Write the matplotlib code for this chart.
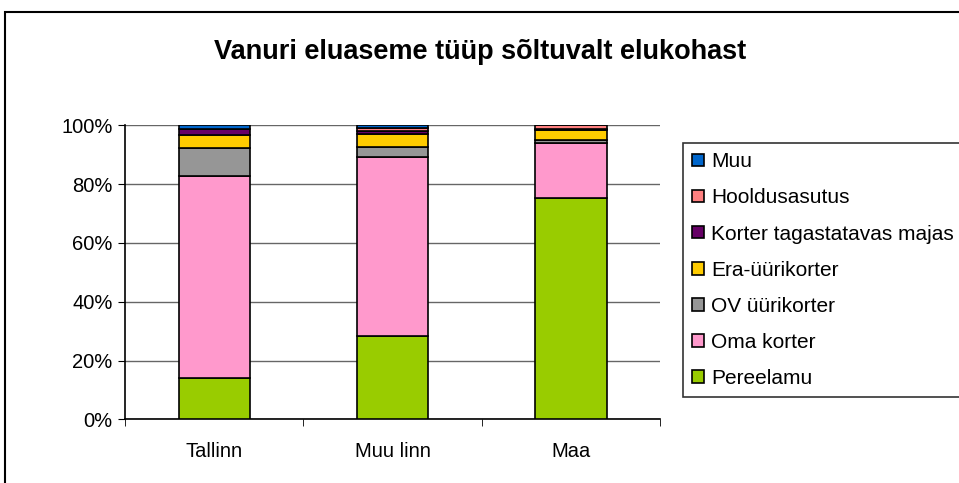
import numpy as np
import matplotlib
matplotlib.use("Agg")
import matplotlib.pyplot as plt
from matplotlib.patches import Patch, Rectangle

plt.rcParams['font.family'] = ['Liberation Sans', 'DejaVu Sans']

# andmed (protsent)
kohad = ["Tallinn", "Muu linn", "Maa"]
seeriad = ["Pereelamu", "Oma korter", "OV üürikorter", "Era-üürikorter",
           "Korter tagastatavas majas", "Hooldusasutus", "Muu"]
pereelamu = [13.9, 28.4, 75.4]
oma_korter = [68.9, 60.9, 18.5]
ov_yyrikorter = [9.4, 3.4, 1.2]
era_yyrikorter = [4.5, 4.4, 3.2]
tagastatav = [1.9, 1.1, 0.4]
hooldus = [0.2, 0.8, 1.3]
muu = [1.2, 1.0, 0.0]
varvid = ["#99CC00", "#FF99CC", "#969696", "#FFCC00", "#660066", "#FF8080", "#0066CC"]

vaartused = np.array([pereelamu, oma_korter, ov_yyrikorter, era_yyrikorter,
                      tagastatav, hooldus, muu], dtype=float)
vaartused = vaartused / vaartused.sum(axis=0) * 100

fig = plt.figure(figsize=(9.59, 4.83), dpi=100)
# välimine raam (parem ja alumine serv jäävad pildist välja)
fig.patches.append(Rectangle((5 / 959, -0.1), 1.1, 1.1 - 12 / 483,
                             transform=fig.transFigure, fill=False,
                             edgecolor="black", linewidth=1.5))

ax = fig.add_axes([125 / 959, 63.7 / 483, 535 / 959, 294 / 483])
x = np.arange(len(kohad))
alus = np.zeros(len(kohad))
for nimi, v, c in zip(seeriad, vaartused, varvid):
    ax.bar(x, v, bottom=alus, width=0.4, color=c, edgecolor="black",
           linewidth=1.2, zorder=3)
    alus += v

ax.set_xlim(-0.5, 2.5)
ax.set_ylim(0, 100)
ax.set_yticks(np.arange(0, 101, 20))
ax.set_yticklabels([f"{t}%" for t in range(0, 101, 20)], fontsize=14.5)
ax.set_xticks(x)
ax.set_xticklabels(kohad, fontsize=14.5)
ax.set_xticks([-0.5, 0.5, 1.5, 2.5], minor=True)
ax.tick_params(axis="x", which="major", length=0, pad=16)
ax.tick_params(axis="x", which="minor", length=5, direction="out")
ax.tick_params(axis="y", length=5, direction="out", pad=4)
ax.yaxis.grid(True, color="#666666", linewidth=1, zorder=0)
for s in ["top", "right"]:
    ax.spines[s].set_visible(False)
ax.spines["left"].set_linewidth(1.2)
ax.spines["bottom"].set_linewidth(1.2)

fig.text(480 / 959, 1 - 52 / 483, "Vanuri eluaseme tüüp sõltuvalt elukohast",
         ha="center", va="center", fontsize=19.5, fontweight="bold")

kasitsed = [Patch(facecolor=c, edgecolor="black", linewidth=1.2) for c in varvid]
leg = fig.legend(kasitsed[::-1], seeriad[::-1], loc="upper left",
                 bbox_to_anchor=(683 / 959, 1 - 143 / 483), fontsize=15,
                 frameon=True, fancybox=False, handlelength=0.55,
                 handleheight=0.55, handletextpad=0.35, labelspacing=0.82,
                 borderpad=0.45, borderaxespad=0)
leg.get_frame().set_edgecolor("black")
leg.get_frame().set_linewidth(1.2)

fig.savefig("out.png", dpi=100)
